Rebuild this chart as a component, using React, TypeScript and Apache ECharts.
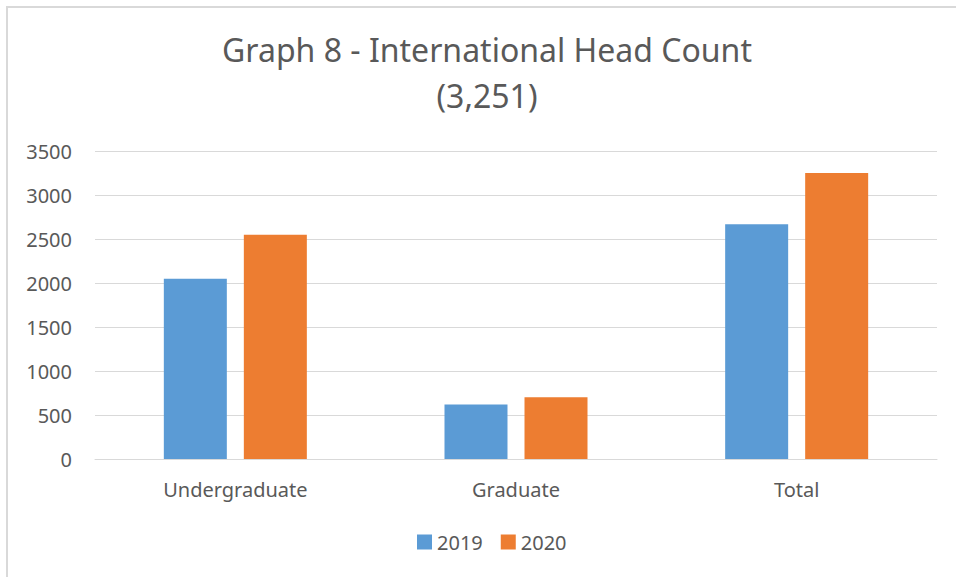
import React, { useEffect, useRef } from "react";
import * as echarts from "echarts";

const categories = ["Undergraduate", "Graduate", "Total"];
const series2019 = [2049, 618, 2667];
const series2020 = [2548, 703, 3251];
const seriesNames = ["2019", "2020"];
const titleLines = ["Graph 8 - International Head Count", "(3,251)"];

export default function App() {
  const ref = useRef<HTMLDivElement>(null);
  useEffect(() => {
    if (!ref.current) return;
    const chart = echarts.init(ref.current, null, { renderer: "svg" });
    const font = "'Noto Sans', sans-serif";
    chart.setOption({
      animation: false,
      backgroundColor: "#ffffff",
      title: {
        text: titleLines.join("\n"),
        left: 482,
        textAlign: "center",
        top: 21,
        textStyle: {
          fontFamily: font,
          fontSize: 32,
          fontWeight: "normal",
          color: "#595959",
          lineHeight: 46,
        },
      },
      grid: { left: 95, right: 19, top: 151, bottom: 118, containLabel: false },
      legend: {
        data: seriesNames,
        bottom: 20,
        left: 412,
        itemWidth: 15,
        itemHeight: 15,
        itemGap: 18,
        icon: "rect",
        textStyle: { fontFamily: font, fontSize: 20, color: "#595959" },
      },
      xAxis: {
        type: "category",
        data: categories,
        axisLine: { lineStyle: { color: "#d9d9d9", width: 1 } },
        axisTick: { show: false },
        axisLabel: { fontFamily: font, fontSize: 20, color: "#595959", margin: 20 },
      },
      yAxis: {
        type: "value",
        min: 0,
        max: 3500,
        interval: 500,
        axisLine: { show: false },
        axisTick: { show: false },
        splitLine: { lineStyle: { color: "#d9d9d9", width: 1 } },
        axisLabel: {
          fontFamily: font,
          fontSize: 20,
          color: "#595959",
          margin: 23,
          formatter: (v: number) => String(v),
        },
      },
      series: [
        {
          name: seriesNames[0],
          type: "bar",
          data: series2019,
          barWidth: 63,
          barGap: "27%",
          itemStyle: { color: "#5b9bd5" },
        },
        {
          name: seriesNames[1],
          type: "bar",
          data: series2020,
          barWidth: 63,
          barGap: "27%",
          itemStyle: { color: "#ed7d31" },
        },
      ],
      graphic: [
        {
          type: "line",
          shape: { x1: 6, y1: 7, x2: 956, y2: 7 },
          style: { stroke: "#d9d9d9", lineWidth: 2 },
        },
        {
          type: "line",
          shape: { x1: 7, y1: 6, x2: 7, y2: 577 },
          style: { stroke: "#d9d9d9", lineWidth: 2 },
        },
      ],
    });
    return () => chart.dispose();
  }, []);
  return (
    <div
      ref={ref}
      style={{ position: "fixed", left: 0, top: 0, width: 956, height: 577 }}
    />
  );
}
